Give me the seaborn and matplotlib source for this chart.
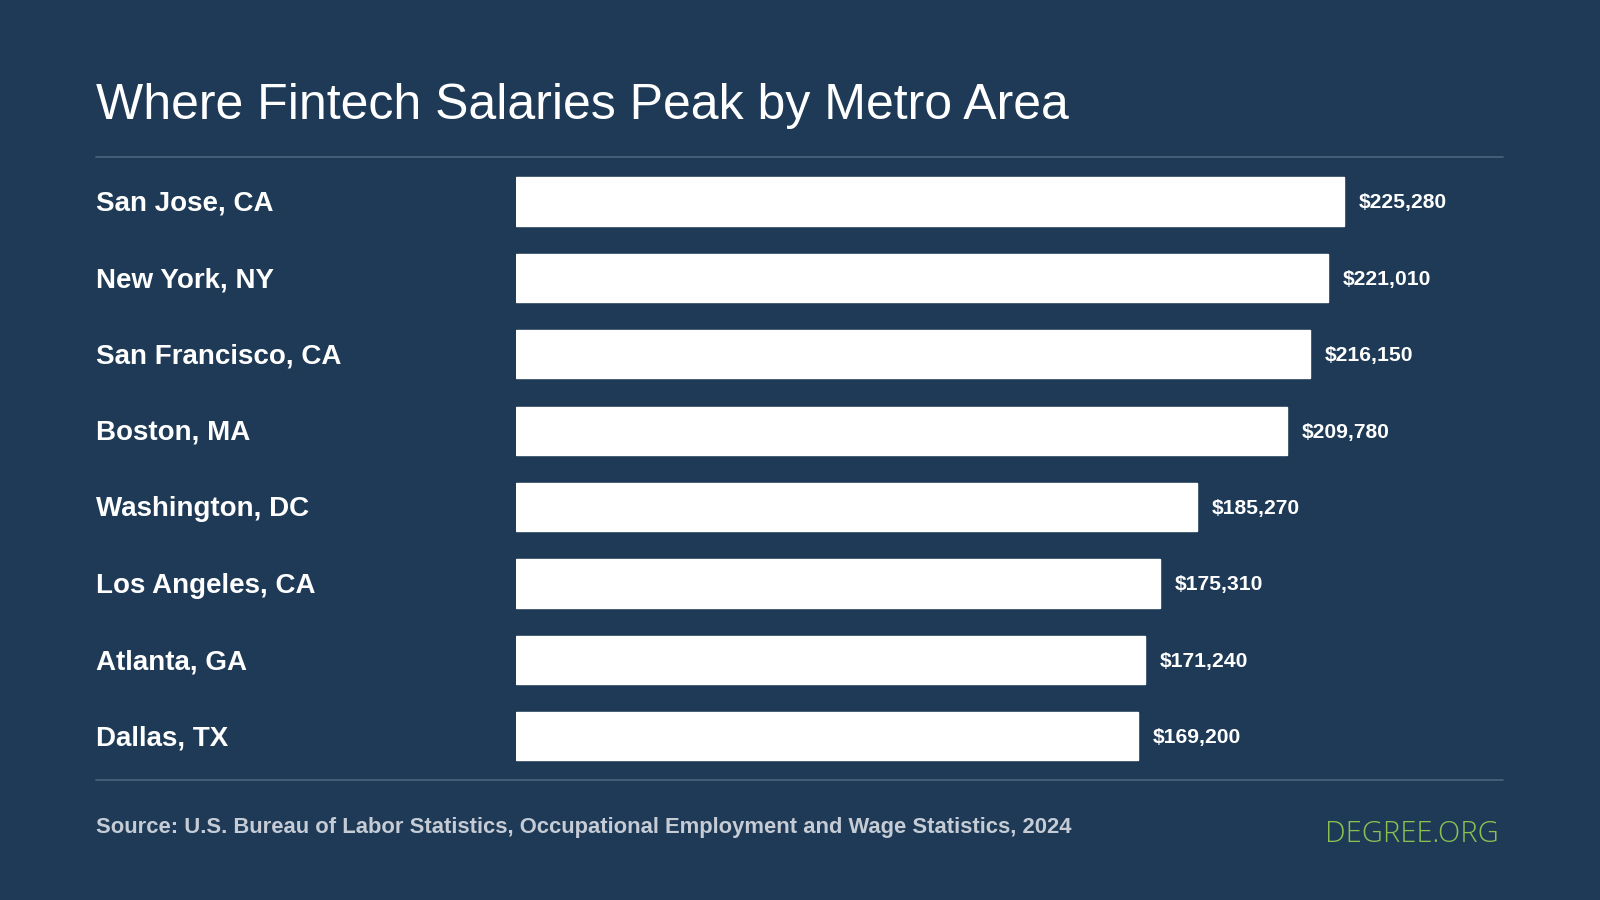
import matplotlib
matplotlib.use("Agg")
import matplotlib.pyplot as plt
import seaborn as sns
import pandas as pd

metros = ["San Jose, CA", "New York, NY", "San Francisco, CA", "Boston, MA",
          "Washington, DC", "Los Angeles, CA", "Atlanta, GA", "Dallas, TX"]
salaries = [225280, 221010, 216150, 209780, 185270, 175310, 171240, 169200]

bg = "#1e3a56"
sns.set_theme(style="white")
plt.rcParams["font.family"] = ["Liberation Sans", "DejaVu Sans"]

df = pd.DataFrame({"metro": metros, "salary": salaries})

fig = plt.figure(figsize=(16, 9), dpi=100, facecolor=bg)
ax = fig.add_axes([0.3227, 0.1395, 0.6167, 0.6791])
ax.set_facecolor(bg)
sns.barplot(data=df, y="metro", x="salary", color="white", saturation=1,
            width=0.63, ax=ax, orient="h")
ax.set_xlim(0, 268600)
ax.set_ylim(7.5, -0.5)
for s in ax.spines.values():
    s.set_visible(False)
ax.set_xticks([])
ax.set_yticks([])
ax.set_xlabel("")
ax.set_ylabel("")

for i, (m, v) in enumerate(zip(metros, salaries)):
    ax.text(v + 4000, i + 0.02, f"${v:,}", color="white", fontsize=15.2,
            fontweight="bold", va="center", ha="left")
    ax.annotate(m, xy=(0, i + 0.03), xycoords=("figure fraction", "data"),
                xytext=(94 / 1568 * 1600, 0), textcoords="offset pixels",
                color="white", fontsize=20, fontweight="bold", va="center", ha="left")

x0, x1 = 94 / 1568, 1473 / 1568
for yy in (1 - 154 / 882, 1 - 764 / 882):
    fig.add_artist(plt.Line2D([x0, x1], [yy, yy], color="#4b6580", lw=1.2))

fig.text(x0, 1 - 104 / 882, "Where Fintech Salaries Peak by Metro Area",
         color="white", fontsize=36, va="center", ha="left")
fig.text(x0, 1 - 811 / 882,
         "Source: U.S. Bureau of Labor Statistics, Occupational Employment and Wage Statistics, 2024",
         color="#c5ccd5", fontsize=15.8, fontweight="bold", va="center", ha="left")
fig.text(1469 / 1568, 1 - 818 / 882, "DEGREE.ORG", color="#8cc152",
         fontsize=21, fontweight="light", va="center", ha="right",
         family=["Open Sans", "DejaVu Sans"])

fig.savefig("out.png", dpi=100, facecolor=bg)
